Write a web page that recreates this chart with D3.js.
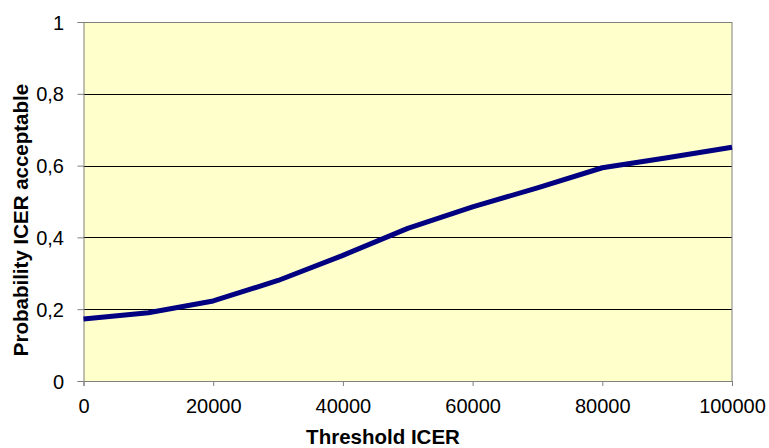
<!DOCTYPE html>
<html><head><meta charset="utf-8">
<script src="https://cdn.jsdelivr.net/npm/d3@7"></script>
<style>body{margin:0;background:#fff}svg{display:block}</style>
</head><body>
<script>
const thresholds = [0,10000,20000,30000,40000,50000,60000,70000,80000,90000,100000];
const probability = [0.173,0.19,0.223,0.28,0.35,0.425,0.485,0.538,0.594,0.622,0.651];
const xTicks = [0,20000,40000,60000,80000,100000];
const yTicks = [0,0.2,0.4,0.6,0.8,1];

const W=769,H=448, L=83.5, R=732, T=22, B=381;
const svg=d3.select("body").append("svg").attr("width",W).attr("height",H);
const x=d3.scaleLinear().domain([0,100000]).range([L,R]);
const y=d3.scaleLinear().domain([0,1]).range([B,T]);

svg.append("rect").attr("x",L).attr("y",T).attr("width",R-L).attr("height",B-T).attr("fill","#FFFFCC");
svg.append("g").selectAll("line").data(yTicks.filter(d=>d>0&&d<1)).join("line")
 .attr("x1",L).attr("x2",R).attr("y1",d=>Math.round(y(d))+0.5).attr("y2",d=>Math.round(y(d))+0.5)
 .attr("stroke","#000").attr("stroke-width",1);
svg.append("line").attr("x1",L).attr("x2",R).attr("y1",T+0.5).attr("y2",T+0.5).attr("stroke","#808080");
svg.append("line").attr("x1",R).attr("x2",R).attr("y1",T).attr("y2",B).attr("stroke","#808080");

const fmt=d=>String(d).replace(".",",");
const font="Arial, 'Liberation Sans', sans-serif";
const xa=svg.append("g").attr("transform",`translate(0,${B})`)
 .call(d3.axisBottom(x).tickValues(xTicks).tickSize(5).tickFormat(d=>d));
const ya=svg.append("g").attr("transform",`translate(${L},0)`)
 .call(d3.axisLeft(y).tickValues(yTicks).tickSize(6).tickFormat(fmt));
[xa,ya].forEach(g=>{
 g.select(".domain").attr("stroke","#808080");
 g.selectAll(".tick line").attr("stroke","#808080");
 g.selectAll("text").attr("font-family",font).attr("font-size",20).attr("fill","#000");
});
xa.selectAll("text").attr("y",32).attr("dy",0);
ya.selectAll("text").attr("x",-19.5).attr("dy","0.35em");

svg.append("path").datum(thresholds.map((t,i)=>[t,probability[i]]))
 .attr("fill","none").attr("stroke","#000080").attr("stroke-width",5).attr("stroke-linejoin","round")
 .attr("d",d3.line().x(d=>x(d[0])).y(d=>y(d[1])));

svg.append("text").attr("x",383).attr("y",444).attr("text-anchor","middle")
 .attr("font-family",font).attr("font-weight","bold").attr("font-size",20.5).text("Threshold ICER");
svg.append("text").attr("transform",`translate(27.5,220) rotate(-90)`).attr("text-anchor","middle")
 .attr("font-family",font).attr("font-weight","bold").attr("font-size",20.5).text("Probability ICER acceptable");
</script>
</body></html>
